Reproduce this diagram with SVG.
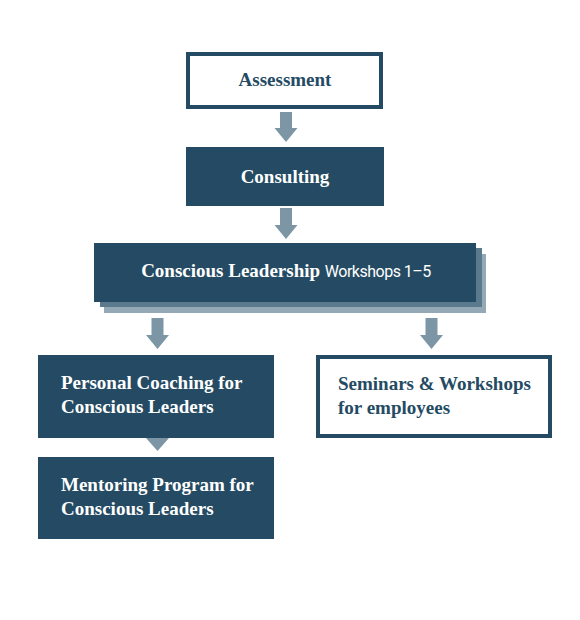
<svg xmlns="http://www.w3.org/2000/svg" width="580" height="620" viewBox="0 0 580 620">
<style>
.dark{fill:#244b63}
.outline{fill:#ffffff;stroke:#244b63;stroke-width:4}
.arrow{fill:#7d96a6}
.t{font-family:"Liberation Serif","Times New Roman",serif;font-size:19px;font-weight:bold}
.tw{fill:#ffffff}
.td{fill:#244b63}
.sans{font-family:Roboto,"Open Sans","Liberation Sans",sans-serif;font-weight:normal;font-size:16px;letter-spacing:-0.5px}
</style>
<rect width="580" height="620" fill="#ffffff"/>
<g id="connectors">
<polygon class="arrow" points="280,112 292,112 292,128 297.5,128 286,142 274.5,128 280,128"/>
<polygon class="arrow" points="280,208 292,208 292,225 297.5,225 286,239 274.5,225 280,225"/>
<polygon class="arrow" points="151.5,318 163.5,318 163.5,335 169,335 157.5,349 146,335 151.5,335"/>
<polygon class="arrow" points="425.5,318 437.5,318 437.5,335 443,335 431.5,349 420,335 425.5,335"/>
<polygon class="arrow" points="146,438 169,438 157.5,451"/>
</g>
<g id="assessment">
<rect class="outline" x="188" y="54" width="193" height="53"/>
<text class="t td" x="285" y="86" text-anchor="middle">Assessment</text>
</g>
<g id="consulting">
<rect class="dark" x="186" y="147" width="198" height="59"/>
<text class="t tw" x="285" y="183" text-anchor="middle">Consulting</text>
</g>
<g id="conscious-leadership">
<rect fill="#94a8b5" x="104" y="254" width="382" height="59"/>
<rect fill="#5b7a8e" x="100" y="248" width="382" height="59"/>
<rect class="dark" x="94" y="243" width="382" height="59"/>
<text class="t tw" x="286" y="277" text-anchor="middle">Conscious Leadership <tspan class="sans">Workshops 1–5</tspan></text>
</g>
<g id="personal-coaching">
<rect class="dark" x="38" y="355" width="236" height="83"/>
<text class="t tw" x="61" y="389">Personal Coaching for</text>
<text class="t tw" x="61" y="413">Conscious Leaders</text>
</g>
<g id="mentoring">
<rect class="dark" x="38" y="457" width="236" height="82"/>
<text class="t tw" x="61" y="491">Mentoring Program for</text>
<text class="t tw" x="61" y="515">Conscious Leaders</text>
</g>
<g id="seminars">
<rect class="outline" x="318" y="357" width="232" height="79"/>
<text class="t td" x="338" y="390">Seminars &amp; Workshops</text>
<text class="t td" x="338" y="414">for employees</text>
</g>
</svg>
